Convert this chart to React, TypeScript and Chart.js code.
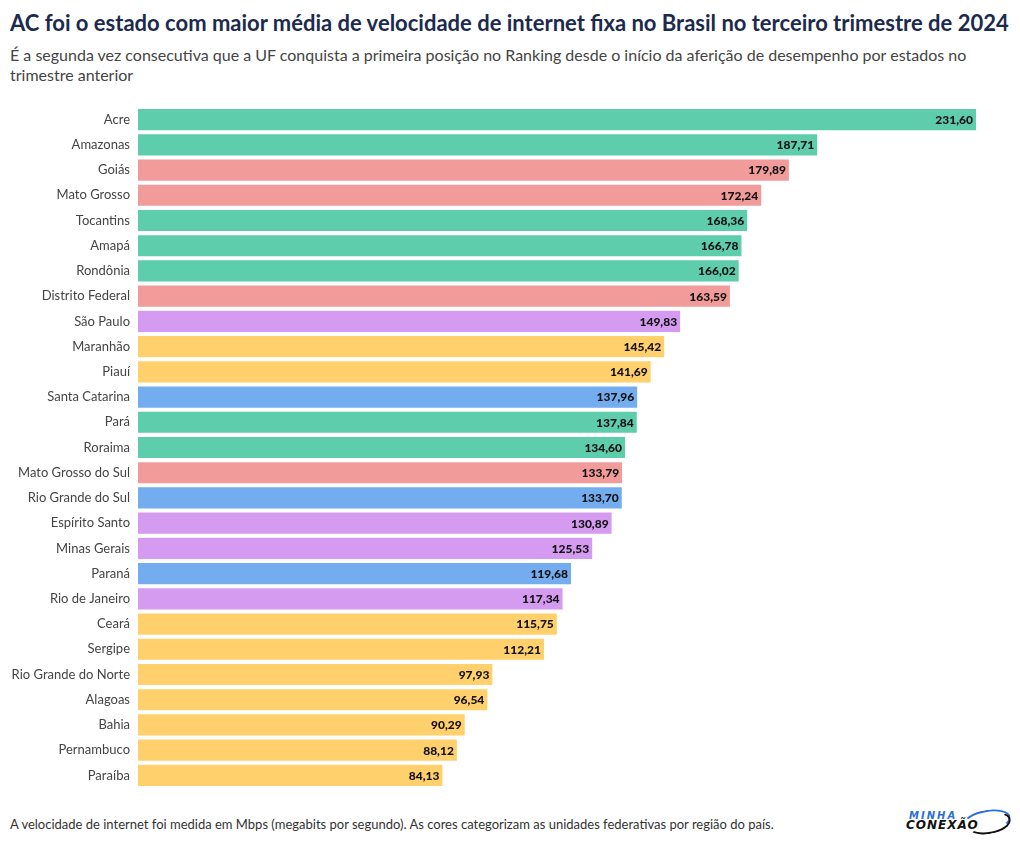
import React, { useEffect, useRef } from "react";
import { Chart, registerables } from "chart.js";

Chart.register(...registerables);

const states = [
  "Acre", "Amazonas", "Goiás", "Mato Grosso", "Tocantins", "Amapá", "Rondônia",
  "Distrito Federal", "São Paulo", "Maranhão", "Piauí", "Santa Catarina", "Pará",
  "Roraima", "Mato Grosso do Sul", "Rio Grande do Sul", "Espírito Santo", "Minas Gerais",
  "Paraná", "Rio de Janeiro", "Ceará", "Sergipe", "Rio Grande do Norte", "Alagoas",
  "Bahia", "Pernambuco", "Paraíba",
];

const speeds = [
  231.6, 187.71, 179.89, 172.24, 168.36, 166.78, 166.02, 163.59, 149.83, 145.42,
  141.69, 137.96, 137.84, 134.6, 133.79, 133.7, 130.89, 125.53, 119.68, 117.34,
  115.75, 112.21, 97.93, 96.54, 90.29, 88.12, 84.13,
];

const regions = [
  "N", "N", "CO", "CO", "N", "N", "N", "CO", "SE", "NE", "NE", "S", "N", "N", "CO",
  "S", "SE", "SE", "S", "SE", "NE", "NE", "NE", "NE", "NE", "NE", "NE",
];

const regionColors: Record<string, string> = {
  N: "#5ecdab",
  CO: "#f29b9b",
  SE: "#d59bf0",
  NE: "#ffd06b",
  S: "#74acf0",
};

const FONT = "'Source Sans Pro', 'Lato', 'Noto Sans', sans-serif";

const valueLabels = {
  id: "valueLabels",
  afterDatasetsDraw(chart: any) {
    const ctx = chart.ctx;
    const meta = chart.getDatasetMeta(0);
    ctx.save();
    ctx.font = `900 12px ${FONT}`;
    ctx.fillStyle = "#111";
    ctx.textAlign = "right";
    ctx.textBaseline = "middle";
    meta.data.forEach((bar: any, i: number) => {
      const v = chart.data.datasets[0].data[i] as number;
      const txt = v.toFixed(2).replace(".", ",");
      ctx.fillText(txt, bar.x - 3, bar.y + 0.5);
    });
    ctx.restore();
  },
};

export default function App() {
  const ref = useRef<HTMLCanvasElement>(null);
  useEffect(() => {
    if (!ref.current) return;
    const chart = new Chart(ref.current, {
      type: "bar",
      data: {
        labels: states,
        datasets: [
          {
            data: speeds,
            backgroundColor: regions.map((r) => regionColors[r]),
            barPercentage: 0.84,
            categoryPercentage: 1,
          },
        ],
      },
      options: {
        indexAxis: "y",
        animation: false,
        responsive: false,
        maintainAspectRatio: false,
        layout: { padding: { left: 0, right: 44, top: 0, bottom: 0 } },
        plugins: { legend: { display: false }, tooltip: { enabled: false } },
        scales: {
          x: { display: false, min: 0, max: 231.6 },
          y: {
            grid: { display: false, drawTicks: false },
            border: { display: false },
            ticks: { color: "#444", font: { family: FONT, size: 13 }, padding: 8 },
            afterFit: (s: any) => {
              s.width = 138;
              s.paddingTop = 0;
              s.paddingBottom = 0;
            },
          },
        },
      },
      plugins: [valueLabels],
    });
    return () => chart.destroy();
  }, []);

  return (
    <div
      style={{
        position: "fixed",
        left: 0,
        top: 0,
        width: 1020,
        height: 846,
        background: "#fff",
        fontFamily: FONT,
        overflow: "hidden",
      }}
    >
      <div
        style={{
          position: "absolute",
          left: 10,
          top: 8,
          fontSize: 22,
          fontWeight: 700,
          color: "#1b2a4e",
          whiteSpace: "nowrap",
          lineHeight: "30px",
        }}
      >
        AC foi o estado com maior média de velocidade de internet fixa no Brasil no terceiro trimestre de 2024
      </div>
      <div
        style={{
          position: "absolute",
          left: 10,
          top: 45,
          width: 990,
          fontSize: 16,
          color: "#444",
          lineHeight: "20px",
        }}
      >
        É a segunda vez consecutiva que a UF conquista a primeira posição no Ranking desde o início da aferição de
        desempenho por estados no trimestre anterior
      </div>
      <canvas
        ref={ref}
        width={1020}
        height={681}
        style={{ position: "absolute", left: 0, top: 107, width: 1020, height: 681 }}
      />
      <div
        style={{
          position: "absolute",
          left: 10,
          top: 815,
          fontSize: 13,
          color: "#333",
          lineHeight: "18px",
        }}
      >
        A velocidade de internet foi medida em Mbps (megabits por segundo). As cores categorizam as unidades federativas
        por região do país.
      </div>
      <div style={{ position: "absolute", left: 905, top: 808, width: 110, height: 26 }}>
        <div
          style={{
            position: "absolute",
            left: 4,
            top: 3,
            fontSize: 10,
            fontWeight: 900,
            fontStyle: "italic",
            color: "#2a6fd6",
            letterSpacing: 2,
            lineHeight: "10px",
            fontFamily: "'DejaVu Sans', sans-serif",
          }}
        >
          MINHA
        </div>
        <div
          style={{
            position: "absolute",
            left: 1,
            top: 11,
            fontSize: 12,
            fontWeight: 900,
            fontStyle: "italic",
            color: "#111",
            letterSpacing: 1,
            lineHeight: "12px",
            fontFamily: "'DejaVu Sans', sans-serif",
          }}
        >
          CONEXÃO
        </div>
        <div
          style={{
            position: "absolute",
            left: 58,
            top: 2,
            width: 44,
            height: 18,
            border: "2px solid #2a6fd6",
            borderRadius: "50%",
            borderLeftColor: "transparent",
            borderBottomColor: "transparent",
            transform: "rotate(-10deg)",
          }}
        />
        <div
          style={{
            position: "absolute",
            left: 62,
            top: 4,
            width: 40,
            height: 18,
            border: "2px solid #111",
            borderRadius: "50%",
            borderLeftColor: "transparent",
            borderTopColor: "transparent",
            transform: "rotate(-10deg)",
          }}
        />
      </div>
    </div>
  );
}
